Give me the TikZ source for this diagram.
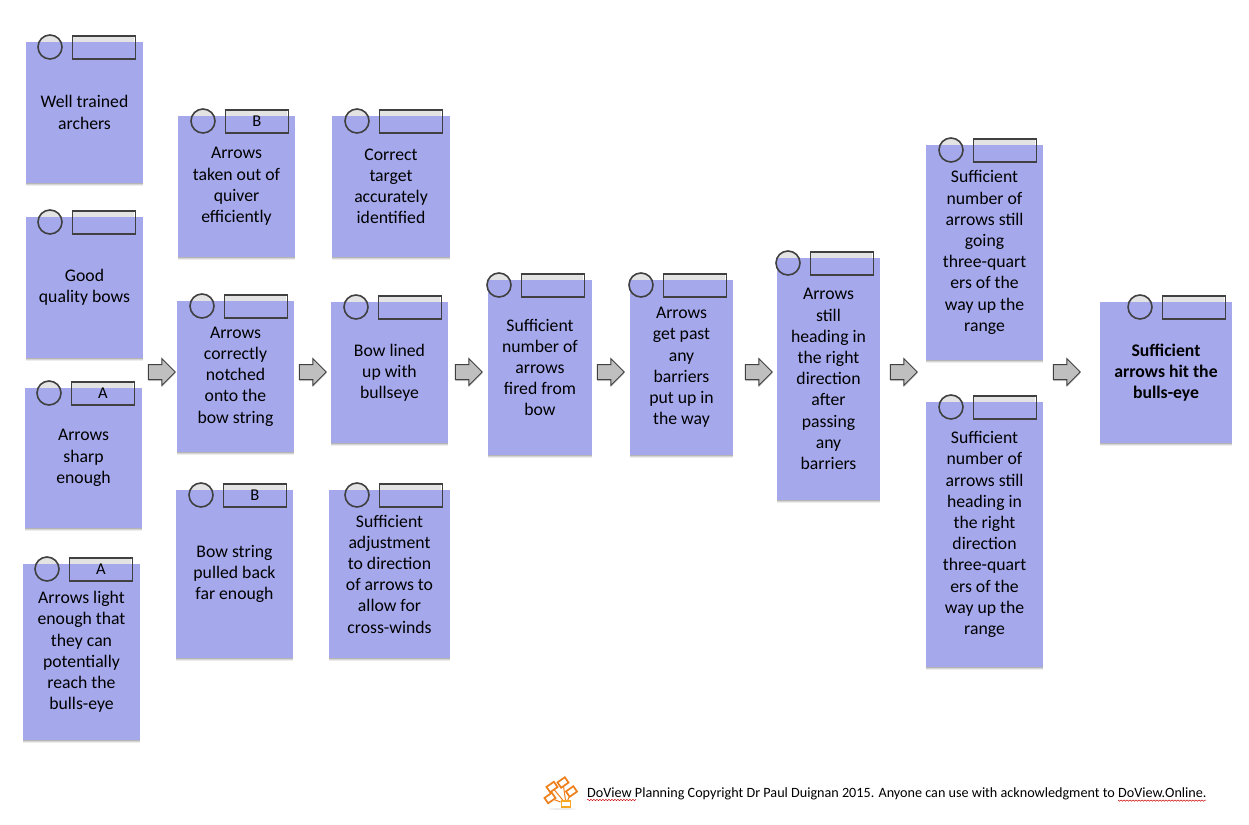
\documentclass[tikz,border=0pt]{standalone}
\usepackage{fontspec}
\setmainfont{Carlito}
\usetikzlibrary{shapes.arrows,shadows,decorations.pathmorphing}
\definecolor{cardblue}{HTML}{A5A9EC}
\definecolor{linegray}{HTML}{404040}
\definecolor{logoorange}{HTML}{EE7F1B}
\definecolor{logoyellow}{HTML}{F7A823}
\tikzset{
	card/.style={fill=cardblue,inner sep=0pt,align=center,font=\fontsize{17.7}{21.2}\selectfont,
		general shadow={shadow yshift=-3pt,fill=black,opacity=.07},
		general shadow={shadow yshift=-2pt,fill=black,opacity=.1},
		general shadow={shadow yshift=-1pt,fill=black,opacity=.15}},
	ring/.style={circle,draw=linegray,line width=1.6pt,minimum size=24pt,inner sep=0pt},
	tag/.style={draw=linegray,line width=1.8pt,minimum width=63pt,minimum height=23pt,inner sep=0pt,font=\fontsize{16.5}{16.5}\selectfont},
	back/.style={fill=gray!22},
	bigarrow/.style={single arrow,draw=linegray,fill=gray!50,line width=1pt,minimum height=27pt,
		single arrow head extend=6pt,inner xsep=0pt,inner ysep=7pt,
		general shadow={shadow yshift=-1.5pt,fill=black,opacity=.2}},
	logobox/.style={draw=logoorange,line width=1.7pt,minimum width=9pt,minimum height=6.5pt,inner sep=0pt,rotate=35},
	squiggle/.style={draw=red!80!black,line width=.5pt,decorate,decoration={snake,amplitude=.6pt,segment length=3pt}}
}
\begin{document}
\begin{tikzpicture}[x=1pt,y=-1pt]
	\useasboundingbox (0,0) rectangle (1249,824);
	% cards: name/left/top/right/bottom/circle x/letter/text
	\foreach \n/\l/\t/\r/\b/\c/\m/\s in {
		well/26/42/143/183/50//{Well trained\\archers},
		bows/26/217/143/358/50//{Good\\quality bows},
		sharp/25/388/142/528/49/A/{Arrows\\sharp\\enough},
		light/23/564/140/740/47/A/{Arrows light\\enough that\\they can\\potentially\\reach the\\bulls-eye},
		quiver/178/116/295/257/203/B/{Arrows\\taken out of\\quiver\\efficiently},
		target/332/116/450/257/357//{Correct\\target\\accurately\\identified},
		notched/177/301/294/452/202//{Arrows\\correctly\\notched\\onto the\\bow string},
		lined/331/302/448/443/356//{Bow lined\\up with\\bullseye},
		pulled/176/490/293/658/201/B/{Bow string\\pulled back\\far enough},
		winds/329/490/450/658/357//{Sufficient\\adjustment\\to direction\\of arrows to\\allow for\\cross-winds},
		fired/488/280/592/455/499//{Sufficient\\number of\\arrows\\fired from\\bow},
		barriers/630/280/733/455/641//{Arrows\\get past\\any\\barriers\\put up in\\the way},
		heading/777/258/880/500/788//{Arrows\\still\\heading in\\the right\\direction\\after\\passing\\any\\barriers},
		quarters/926/145/1043/360/951//{Sufficient\\number of\\arrows still\\going\\three-quart\\ers of the\\way up the\\range},
		right/926/402/1043/667/951//{Sufficient\\number of\\arrows still\\heading in\\the right\\direction\\three-quart\\ers of the\\way up the\\range},
		hit/1100/302/1232/443/1140//{\bfseries Sufficient\\\bfseries arrows hit the\\\bfseries bulls-eye}}{
		\pgfmathsetmacro{\w}{\r-\l}
		\pgfmathsetmacro{\h}{\b-\t}
		\path[back] (\c,\t+5) circle (11.5);
		\path[back] (\c+22,\t-6.5) rectangle +(62,11);
		\node[card,minimum width=\w pt,minimum height=\h pt] (\n) at ({(\l+\r)/2},{(\t+\b)/2}) {\s};
		\node[ring] (\n ring) at (\c,\t+5) {};
		\node[tag,anchor=north west] (\n tag) at (\c+21.5,\t-7) {\m};
	}
	% block arrows between the columns
	\foreach \n/\x in {a/158,b/309,c/465,d/607,e/755,f/900,g/1063}
		\node[bigarrow] (arrow\n) at (\x,372) {};
	% logo and footer
	\path[fill=gray!15] (562,809) ellipse (14 and 1);
	\node[logobox] (logoa) at (552,787) {};
	\node[logobox] (logob) at (563,782.5) {};
	\node[logobox] (logoc) at (550,798) {};
	\node[logobox] (logod) at (571.5,791.5) {};
	\node[logobox,draw=logoyellow,rotate=-35] (logoe) at (566,804) {};
	\draw[logoorange,line width=1pt] (logoa)--(logoe) (logob)--(logoe) (logoc)--(logoe) (logod)--(logoe);
	\node[anchor=base west,inner sep=0pt,font=\fontsize{14.16}{16}\selectfont] (footer) at (587,797)
		{DoView Planning Copyright Dr Paul Duignan 2015. Anyone can use with acknowledgment to DoView.Online.};
	\draw[squiggle] (587,800)--(635,800) (1118,800)--(1206,800);
\end{tikzpicture}
\end{document}
